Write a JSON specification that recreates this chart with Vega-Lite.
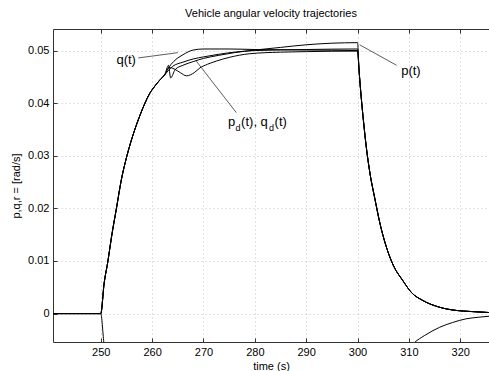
{
  "$schema": "https://vega.github.io/schema/vega-lite/v6.json",
  "width": 436,
  "height": 313,
  "autosize": {"type": "none"},
  "padding": {"left": 53, "top": 29, "right": 0, "bottom": 29},
  "background": "white",
  "title": {"text": "Vehicle angular velocity trajectories", "font": "Liberation Sans", "fontSize": 11, "fontWeight": "normal", "color": "#000", "offset": 10},
  "datasets": {
    "series": [
      {"s":"p","t":240.7,"v":0},{"s":"p","t":250,"v":0},{"s":"p","t":250.65,"v":0.0057},{"s":"p","t":251.4,"v":0.01},{"s":"p","t":252.1,"v":0.0146},{"s":"p","t":253.05,"v":0.02},{"s":"p","t":254,"v":0.0254},{"s":"p","t":255.1,"v":0.03},{"s":"p","t":256.6,"v":0.0349},{"s":"p","t":257.6,"v":0.0376},{"s":"p","t":258.6,"v":0.04},{"s":"p","t":259.5,"v":0.0418},{"s":"p","t":260.5,"v":0.0432},{"s":"p","t":261.5,"v":0.0444},{"s":"p","t":262.45,"v":0.0454},
      {"s":"p","t":263.2,"v":0.0472},{"s":"p","t":263.6,"v":0.0448},{"s":"p","t":264.5,"v":0.0464},{"s":"p","t":266,"v":0.0472},{"s":"p","t":268,"v":0.0479},{"s":"p","t":270,"v":0.0485},{"s":"p","t":273,"v":0.0491},{"s":"p","t":276,"v":0.0496},{"s":"p","t":280,"v":0.0501},{"s":"p","t":285,"v":0.0506},{"s":"p","t":290,"v":0.0511},{"s":"p","t":295,"v":0.0514},{"s":"p","t":300,"v":0.0515},
      {"s":"p","t":300.3,"v":0.0462},{"s":"p","t":300.7,"v":0.0413},{"s":"p","t":301.2,"v":0.0362},{"s":"p","t":301.7,"v":0.0317},{"s":"p","t":302.5,"v":0.0262},{"s":"p","t":303.3,"v":0.0222},{"s":"p","t":304.4,"v":0.017},{"s":"p","t":305.6,"v":0.0127},{"s":"p","t":307,"v":0.0091},{"s":"p","t":308.8,"v":0.0063},{"s":"p","t":310.5,"v":0.004},{"s":"p","t":312.7,"v":0.0025},{"s":"p","t":316,"v":0.0012},{"s":"p","t":319.2,"v":0.0006},{"s":"p","t":322,"v":0.0004},{"s":"p","t":325.6,"v":0.0002},

      {"s":"q","t":240.7,"v":0},{"s":"q","t":250,"v":0},{"s":"q","t":250.65,"v":0.0057},{"s":"q","t":251.4,"v":0.01},{"s":"q","t":252.1,"v":0.0146},{"s":"q","t":253.05,"v":0.02},{"s":"q","t":254,"v":0.0254},{"s":"q","t":255.1,"v":0.03},{"s":"q","t":256.6,"v":0.0349},{"s":"q","t":257.6,"v":0.0376},{"s":"q","t":258.6,"v":0.04},{"s":"q","t":259.5,"v":0.0418},{"s":"q","t":260.5,"v":0.0432},{"s":"q","t":261.5,"v":0.0444},{"s":"q","t":262.45,"v":0.0454},
      {"s":"q","t":263.4,"v":0.047},{"s":"q","t":264.5,"v":0.0482},{"s":"q","t":266,"v":0.0492},{"s":"q","t":268,"v":0.0501},{"s":"q","t":270,"v":0.0503},{"s":"q","t":275,"v":0.0503},{"s":"q","t":280,"v":0.0502},{"s":"q","t":290,"v":0.0501},{"s":"q","t":300,"v":0.05},
      {"s":"q","t":300.3,"v":0.0462},{"s":"q","t":300.7,"v":0.0413},{"s":"q","t":301.2,"v":0.0362},{"s":"q","t":301.7,"v":0.0317},{"s":"q","t":302.5,"v":0.0262},{"s":"q","t":303.3,"v":0.0222},{"s":"q","t":304.4,"v":0.017},{"s":"q","t":305.6,"v":0.0127},{"s":"q","t":307,"v":0.0091},{"s":"q","t":308.8,"v":0.0063},{"s":"q","t":310.5,"v":0.004},{"s":"q","t":312.7,"v":0.0025},{"s":"q","t":316,"v":0.0012},{"s":"q","t":319.2,"v":0.0006},{"s":"q","t":322,"v":0.0004},{"s":"q","t":325.6,"v":0.0002},

      {"s":"qd","t":240.7,"v":0},{"s":"qd","t":250,"v":0},{"s":"qd","t":250.65,"v":0.0057},{"s":"qd","t":251.4,"v":0.01},{"s":"qd","t":252.1,"v":0.0146},{"s":"qd","t":253.05,"v":0.02},{"s":"qd","t":254,"v":0.0254},{"s":"qd","t":255.1,"v":0.03},{"s":"qd","t":256.6,"v":0.0349},{"s":"qd","t":257.6,"v":0.0376},{"s":"qd","t":258.6,"v":0.04},{"s":"qd","t":259.5,"v":0.0418},{"s":"qd","t":260.5,"v":0.0432},{"s":"qd","t":261.5,"v":0.0444},{"s":"qd","t":262.45,"v":0.0454},
      {"s":"qd","t":264,"v":0.047},{"s":"qd","t":266,"v":0.0478},{"s":"qd","t":268,"v":0.0484},{"s":"qd","t":270,"v":0.0488},{"s":"qd","t":273,"v":0.0493},{"s":"qd","t":276,"v":0.0497},{"s":"qd","t":280,"v":0.05},{"s":"qd","t":290,"v":0.0502},{"s":"qd","t":300,"v":0.0503},
      {"s":"qd","t":300.3,"v":0.0462},{"s":"qd","t":300.7,"v":0.0413},{"s":"qd","t":301.2,"v":0.0362},{"s":"qd","t":301.7,"v":0.0317},{"s":"qd","t":302.5,"v":0.0262},{"s":"qd","t":303.3,"v":0.0222},{"s":"qd","t":304.4,"v":0.017},{"s":"qd","t":305.6,"v":0.0127},{"s":"qd","t":307,"v":0.0091},{"s":"qd","t":308.8,"v":0.0063},{"s":"qd","t":310.5,"v":0.004},{"s":"qd","t":312.7,"v":0.0025},{"s":"qd","t":316,"v":0.0012},{"s":"qd","t":319.2,"v":0.0006},{"s":"qd","t":322,"v":0.0004},{"s":"qd","t":325.6,"v":0.0002},

      {"s":"pd","t":240.7,"v":0},{"s":"pd","t":250,"v":0},{"s":"pd","t":250.65,"v":0.0057},{"s":"pd","t":251.4,"v":0.01},{"s":"pd","t":252.1,"v":0.0146},{"s":"pd","t":253.05,"v":0.02},{"s":"pd","t":254,"v":0.0254},{"s":"pd","t":255.1,"v":0.03},{"s":"pd","t":256.6,"v":0.0349},{"s":"pd","t":257.6,"v":0.0376},{"s":"pd","t":258.6,"v":0.04},{"s":"pd","t":259.5,"v":0.0418},{"s":"pd","t":260.5,"v":0.0432},{"s":"pd","t":261.5,"v":0.0444},{"s":"pd","t":262.45,"v":0.0454},
      {"s":"pd","t":263.3,"v":0.0468},{"s":"pd","t":264.3,"v":0.0465},{"s":"pd","t":265.5,"v":0.0458},{"s":"pd","t":266.7,"v":0.0452},{"s":"pd","t":268.2,"v":0.0458},{"s":"pd","t":269.3,"v":0.0467},{"s":"pd","t":270.8,"v":0.0474},{"s":"pd","t":272.5,"v":0.048},{"s":"pd","t":275,"v":0.0487},{"s":"pd","t":279,"v":0.0494},{"s":"pd","t":285,"v":0.0497},{"s":"pd","t":290,"v":0.0498},{"s":"pd","t":300,"v":0.0499},
      {"s":"pd","t":300.3,"v":0.0462},{"s":"pd","t":300.7,"v":0.0413},{"s":"pd","t":301.2,"v":0.0362},{"s":"pd","t":301.7,"v":0.0317},{"s":"pd","t":302.5,"v":0.0262},{"s":"pd","t":303.3,"v":0.0222},{"s":"pd","t":304.4,"v":0.017},{"s":"pd","t":305.6,"v":0.0127},{"s":"pd","t":307,"v":0.0091},{"s":"pd","t":308.8,"v":0.0063},{"s":"pd","t":310.5,"v":0.004},{"s":"pd","t":312.7,"v":0.0025},{"s":"pd","t":316,"v":0.0012},{"s":"pd","t":319.2,"v":0.0006},{"s":"pd","t":322,"v":0.0004},{"s":"pd","t":325.6,"v":0.0002},

      {"s":"r","t":240.7,"v":0},{"s":"r","t":250,"v":0},{"s":"r","t":250.6,"v":-0.0055},{"s":"r","t":251,"v":-0.009},{"s":"r","t":252,"v":-0.018},{"s":"r","t":255,"v":-0.035},{"s":"r","t":260,"v":-0.045},{"s":"r","t":300,"v":-0.05},{"s":"r","t":302,"v":-0.03},{"s":"r","t":305,"v":-0.017},{"s":"r","t":308,"v":-0.0095},{"s":"r","t":311.1,"v":-0.0055},{"s":"r","t":313,"v":-0.0042},{"s":"r","t":316,"v":-0.0026},{"s":"r","t":318.5,"v":-0.0017},{"s":"r","t":321.1,"v":-0.001},{"s":"r","t":323.5,"v":-0.0007},{"s":"r","t":325.6,"v":-0.0005}
    ],
    "leaders": [
      {"t":257.3,"v":0.0486,"t2":265.0,"v2":0.0496},
      {"t":300.4,"v":0.0511,"t2":307.6,"v2":0.0472},
      {"t":268.6,"v":0.048,"t2":276.4,"v2":0.0382}
    ],
    "labels": [
      {"t":253.05,"v":0.0483,"txt":"q(t)"},
      {"t":308.5,"v":0.0461,"txt":"p(t)"},
      {"t":274.77,"v":0.0365,"txt":"p"},
      {"t":277.33,"v":0.0365,"txt":"(t), q"},
      {"t":283.85,"v":0.0365,"txt":"(t)"}
    ],
    "subs": [
      {"t":276.23,"v":0.0352,"txt":"d"},
      {"t":282.78,"v":0.0352,"txt":"d"}
    ]
  },
  "encoding": {
    "y": {"field": "v", "type": "quantitative", "scale": {"domain": [-0.0054, 0.0541], "nice": false, "zero": false},
          "axis": {"values": [0,0.01,0.02,0.03,0.04,0.05], "format": "~g", "grid": true, "title": "p,q,r = [rad/s]", "labelPadding": 8, "titlePadding": 6}}
  },
  "layer": [
    {
      "data": {"name": "series"},
      "mark": {"type": "line", "color": "#000", "strokeWidth": 1, "clip": true, "interpolate": "monotone"},
      "encoding": {
        "x": {"field": "t", "type": "quantitative", "scale": {"domain": [240.7, 325.6], "nice": false, "zero": false},
              "axis": {"values": [250,260,270,280,290,300,310,320], "grid": true, "title": "time (s)", "labelPadding": 8, "titlePadding": 3}},
        "detail": {"field": "s"}
      }
    },
    {
      "data": {"name": "leaders"},
      "mark": {"type": "rule", "color": "#333", "strokeWidth": 0.8},
      "encoding": {
        "x": {"field": "t", "type": "quantitative", "axis": {"orient": "top", "values": [250,260,270,280,290,300,310,320], "labels": false, "grid": false, "title": null}},
        "x2": {"field": "t2"},
        "y2": {"field": "v2"}
      }
    },
    {
      "data": {"name": "labels"},
      "mark": {"type": "text", "font": "Liberation Sans", "fontSize": 13, "align": "left", "baseline": "middle", "color": "#000"},
      "encoding": {
        "x": {"field": "t", "type": "quantitative", "axis": null},
        "text": {"field": "txt"}
      }
    },
    {
      "data": {"name": "subs"},
      "mark": {"type": "text", "font": "Liberation Sans", "fontSize": 9, "align": "left", "baseline": "middle", "color": "#000"},
      "encoding": {
        "x": {"field": "t", "type": "quantitative", "axis": null},
        "text": {"field": "txt"}
      }
    }
  ],
  "resolve": {"axis": {"x": "independent"}},
  "config": {
    "view": {"stroke": null},
    "axis": {"labelFont": "Liberation Sans", "labelFontSize": 11, "labelColor": "#000", "titleFont": "Liberation Sans", "titleFontSize": 11, "titleFontWeight": "normal", "titleColor": "#000", "domainColor": "#333", "tickColor": "#333", "tickSize": -4, "gridColor": "#c4c4c4", "gridDash": [1, 3], "gridWidth": 1}
  }
}
